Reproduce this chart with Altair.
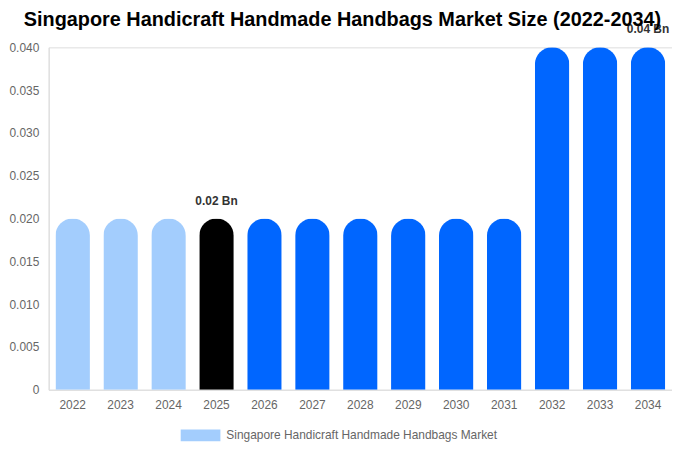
import altair as alt
import pandas as pd

years = [str(y) for y in range(2022, 2035)]
values = [0.02, 0.02, 0.02, 0.02, 0.02, 0.02, 0.02, 0.02, 0.02, 0.02, 0.04, 0.04, 0.04]
bar_colors = ["#a3cdfd"] * 3 + ["#000000"] + ["#0066ff"] * 9
labels = ["", "", "", "0.02 Bn", "", "", "", "", "", "", "", "", "0.04 Bn"]
series = "Singapore Handicraft Handmade Handbags Market"

df = pd.DataFrame({
    "year": years,
    "value": values,
    "fillc": bar_colors,
    "label": labels,
})

base = alt.Chart(df).encode(
    x=alt.X("year:N", title=None, sort=years,
            scale=alt.Scale(paddingInner=0.28, paddingOuter=0.14),
            axis=alt.Axis(labelAngle=0, ticks=False, labelPadding=10, labelFontSize=12,
                          labelColor="#666666", domainColor="#dddddd")),
)

bars = base.mark_bar(cornerRadiusTopLeft=17.5, cornerRadiusTopRight=17.5).encode(
    y=alt.Y("value:Q", title=None,
            scale=alt.Scale(domain=[0, 0.04]),
            axis=alt.Axis(values=[0, 0.005, 0.01, 0.015, 0.02, 0.025, 0.03, 0.035, 0.04],
                          labelExpr="datum.value == 0 ? '0' : format(datum.value, '.3f')",
                          grid=False, ticks=False, labelPadding=10, labelFontSize=12,
                          labelColor="#666666", domainColor="#dddddd")),
    color=alt.Color("fillc:N", title=None,
                    scale=alt.Scale(domain=["#a3cdfd", "#000000", "#0066ff"],
                                    range=["#a3cdfd", "#000000", "#0066ff"]),
                    legend=alt.Legend(orient="none", legendX=133, legendY=371,
                                      direction="horizontal", values=["#a3cdfd"],
                                      labelExpr=f"'{series}'", labelLimit=500,
                                      symbolType="M-1,-0.3H1V0.3H-1Z",
                                      symbolSize=1600, symbolStrokeWidth=0, labelOffset=6,
                                      labelFontSize=12, labelColor="#666666")),
)

text = base.mark_text(dy=-11, fontSize=12, fontWeight="bold", color="#333333", baseline="bottom").encode(
    y=alt.Y("value:Q"),
    text="label:N",
)

chart = (bars + text).properties(
    width=628,
    height=345,
    title=alt.TitleParams("Singapore Handicraft Handmade Handbags Market Size (2022-2034)",
                          fontSize=20, fontWeight="bold", color="#000000", anchor="middle",
                          frame="group", offset=-6, dx=-18),
).configure_view(stroke=None).configure(font="Liberation Sans", padding={"left": 0, "top": 0, "right": 0, "bottom": 0})

chart.save("out.html", embed_options={"renderer": "svg", "actions": False})
